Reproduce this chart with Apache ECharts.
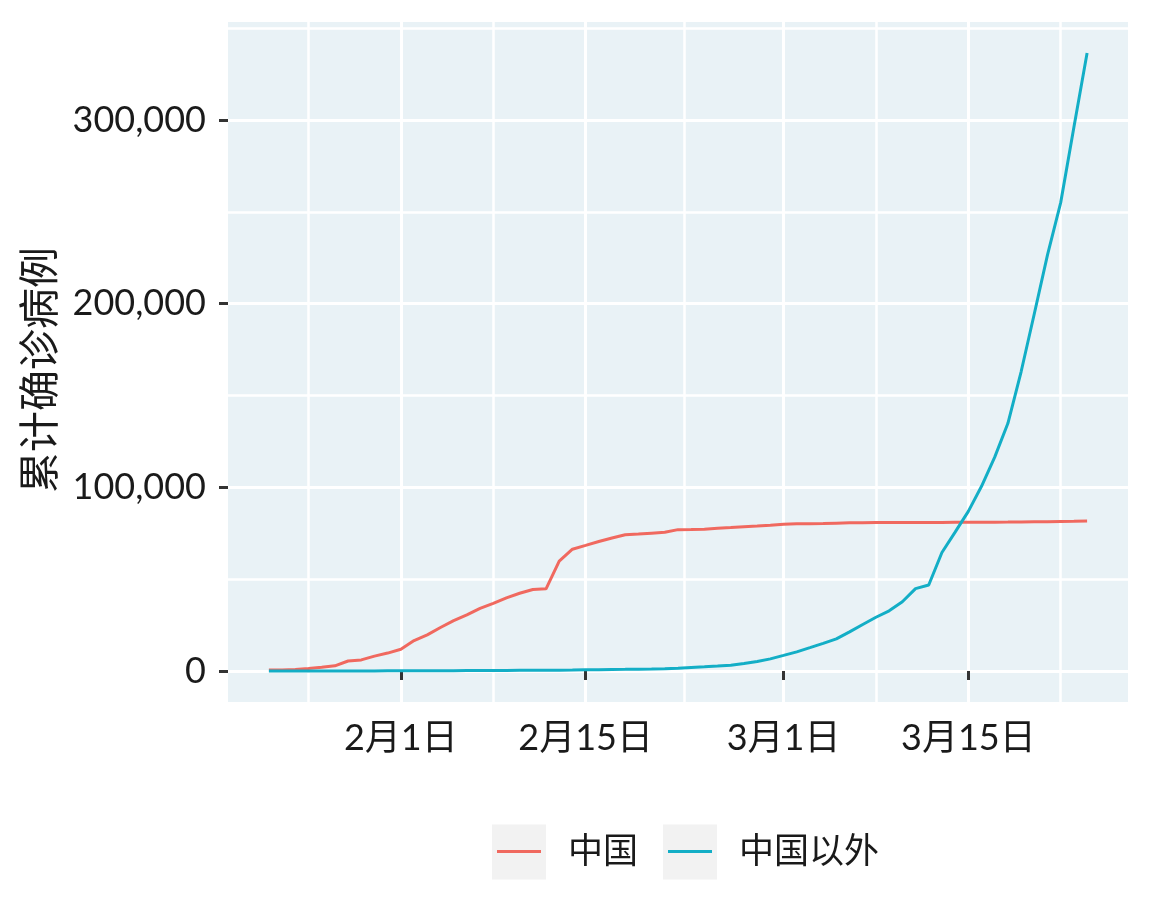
<!DOCTYPE html>
<html>
<head>
<meta charset="utf-8" />
<title>累计确诊病例</title>
<script src="https://cdn.jsdelivr.net/npm/echarts@6.0.0/dist/echarts.min.js"></script>
<style>
    html, body { margin: 0; padding: 0; background: #fff; }
    #main { width: 1152px; height: 922px; }
</style>
</head>
<body>
<div id="main"></div>
<script>
// 数据从 2020年1月22日 到 3月24日，每天一个点
const startDay = 21; // 1月22日 = 1月1日之后第21天
const chinaCases = [
    548, 643, 920, 1406, 2075, 2877, 5509, 6087, 8141, 9802,
    11891, 16630, 19716, 23707, 27440, 30587, 34110, 36814, 39829, 42354,
    44386, 44759, 59895, 66358, 68413, 70513, 72434, 74211, 74619, 75077,
    75550, 77001, 77022, 77241, 77754, 78166, 78600, 78928, 79356,
    79932, 80136, 80261, 80386, 80537, 80690, 80770, 80823, 80860, 80887,
    80921, 80932, 80945, 80977, 81003, 81033, 81058, 81102, 81156, 81250,
    81305, 81435, 81498, 81650
];
const outsideCases = [
    7, 11, 21, 28, 43, 50, 70, 81, 95, 137,
    147, 157, 172, 194, 221, 268, 302, 334, 360, 398,
    440, 487, 510, 526, 681, 777, 870, 937, 1040, 1140,
    1303, 1573, 1955, 2335, 2736, 3213, 4090, 5189, 6649,
    8529, 10484, 12760, 15069, 17542, 21356, 25383, 29301, 32788, 37749,
    44881, 46881, 64574, 75623, 86949, 100594, 116452, 134888, 162938, 194524,
    226600, 255000, 296000, 336500
];
const seriesNames = ['中国', '中国以外'];
const xTickDays = [31, 45, 60, 74];
const xTickLabels = ['2月1日', '2月15日', '3月1日', '3月15日'];
const xMinorDays = [24, 38, 52.5, 67, 81];
const yTicks = [0, 100000, 200000, 300000];
const yMinorTicks = [50000, 150000, 250000, 350000];

const toPoints = (arr) => arr.map((v, i) => [startDay + i, v]);

const xRange = [17.9, 86.1];
const yRange = [-16825, 353325];
const fontFamily = 'Lato, "Noto Sans CJK SC", sans-serif';
const panelBg = '#E9F2F6';
const textColor = '#1a1a1a';

let myChart = echarts.init(document.getElementById('main'));
let option = {
    animation: false,
    backgroundColor: '#ffffff',
    textStyle: { fontFamily: fontFamily },
    grid: {
        left: 228, right: 24, top: 22, bottom: 220,
        show: true, backgroundColor: panelBg, borderWidth: 0,
        containLabel: false, outerBoundsMode: 'none'
    },
    xAxis: [
        {
            type: 'value', min: xRange[0], max: xRange[1],
            axisLine: { show: false },
            axisTick: { show: true, length: 9, customValues: xTickDays,
                lineStyle: { color: '#333', width: 3 } },
            axisLabel: {
                customValues: xTickDays, margin: 18,
                fontSize: 36, color: textColor, fontFamily: fontFamily,
                formatter: (v) => xTickLabels[xTickDays.indexOf(v)]
            },
            splitLine: { show: true, lineStyle: { color: '#fff', width: 3 } }
        },
        {
            type: 'value', min: xRange[0], max: xRange[1], position: 'bottom',
            axisLine: { show: false },
            axisTick: { show: false, customValues: xMinorDays },
            axisLabel: { show: false },
            splitLine: { show: true, lineStyle: { color: '#fff', width: 2.5 } }
        }
    ],
    yAxis: [
        {
            type: 'value', min: yRange[0], max: yRange[1],
            name: '累计确诊病例', nameLocation: 'middle', nameRotate: 90, nameGap: 166,
            nameTextStyle: { fontSize: 41, color: textColor, fontFamily: fontFamily, padding: [0, 16, 0, 0] },
            axisLine: { show: false },
            axisTick: { show: true, length: 9, customValues: yTicks,
                lineStyle: { color: '#333', width: 3 } },
            axisLabel: {
                customValues: yTicks, margin: 22,
                fontSize: 36, color: textColor, fontFamily: fontFamily,
                formatter: (v) => v.toLocaleString('en-US')
            },
            splitLine: { show: true, lineStyle: { color: '#fff', width: 3 } }
        },
        {
            type: 'value', min: yRange[0], max: yRange[1], position: 'left',
            axisLine: { show: false },
            axisTick: { show: false, customValues: yMinorTicks },
            axisLabel: { show: false },
            splitLine: { show: true, lineStyle: { color: '#fff', width: 2.5 } }
        }
    ],
    legend: {
        bottom: 48, left: 492,
        icon: 'rect', itemWidth: 44, itemHeight: 3, itemGap: 30,
        textStyle: { fontSize: 35, color: textColor, fontFamily: fontFamily, padding: [0, 0, 0, 22] },
        data: seriesNames
    },
    graphic: [],
    series: [
        {
            name: seriesNames[0], type: 'line', data: toPoints(chinaCases),
            symbol: 'none', color: '#F0695F',
            lineStyle: { width: 3, color: '#F0695F' }
        },
        {
            name: seriesNames[1], type: 'line', data: toPoints(outsideCases),
            symbol: 'none', color: '#13AEC6',
            lineStyle: { width: 3, color: '#13AEC6' }
        }
    ]
};
myChart.setOption(option);

// 图例键的灰色底框，跟随图例项的实际位置
const legendView = myChart._componentsViews.find(v => v.type === 'legend.plain');
let boxes = [];
if (legendView) {
    legendView.getContentGroup().eachChild(function (item) {
        const r = item.getBoundingRect();
        const pos = item.transformCoordToGlobal(0, 0);
        boxes.push({
            type: 'rect', z: 0, silent: true,
            shape: { x: pos[0] - 5, y: pos[1] + r.y + r.height / 2 - 27, width: 54, height: 55 },
            style: { fill: '#F2F2F2' }
        });
    });
}
myChart.setOption({ graphic: boxes });
</script>
</body>
</html>
